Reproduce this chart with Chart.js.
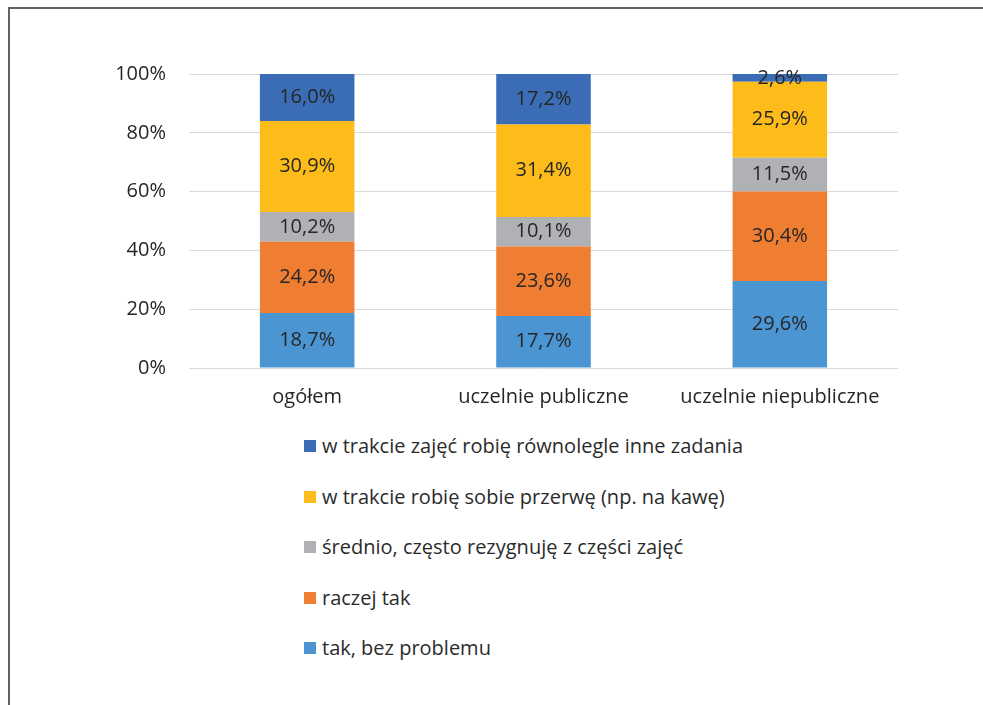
<!DOCTYPE html>
<html>
<head>
<meta charset="utf-8">
<script src="https://cdn.jsdelivr.net/npm/chart.js@4.4.1/dist/chart.umd.min.js"></script>
<style>
  html, body { margin:0; padding:0; background:#fff; overflow:hidden; }
  body { width:983px; height:705px; position:relative; font-family:"Open Sans", sans-serif; }
  #frame { position:absolute; left:8px; top:7px; width:1100px; height:800px;
           border-left:2px solid #626262; border-top:2px solid #626262; }
  #wrap { position:absolute; left:0; top:0; width:983px; height:420px; }
  #legend { position:absolute; left:304px; top:433px; }
  .item { height:50.5px; display:flex; align-items:flex-start; font-size:20px; line-height:26px; color:#2b2b2b; }
  .item span.box { width:12px; height:12px; margin-top:7px; margin-right:6px; display:inline-block; }
</style>
</head>
<body>
<div id="frame"></div>
<div id="wrap"><canvas id="chart"></canvas></div>
<div id="legend"></div>
<script>
// Data
const categories = ['ogółem', 'uczelnie publiczne', 'uczelnie niepubliczne'];
const seriesNames = [
    'tak, bez problemu',
    'raczej tak',
    'średnio, często rezygnuję z części zajęć',
    'w trakcie robię sobie przerwę (np. na kawę)',
    'w trakcie zajęć robię równolegle inne zadania'
];
const takBezProblemu = [18.7, 17.7, 29.6];
const raczejTak = [24.2, 23.6, 30.4];
const srednio = [10.2, 10.1, 11.5];
const przerwa = [30.9, 31.4, 25.9];
const rownolegle = [16.0, 17.2, 2.6];
const yTicks = [0, 20, 40, 60, 80, 100];

const colors = ['#4b95d2', '#ef7d32', '#b0b1b4', '#fdbc19', '#3a6db6'];
const values = [takBezProblemu, raczejTak, srednio, przerwa, rownolegle];

const fmt = v => v.toFixed(1).replace('.', ',') + '%';
const FONT = '"Open Sans"';

// Value labels in each segment
const segmentLabels = {
    id: 'segmentLabels',
    afterDatasetsDraw(chart) {
        const ctx = chart.ctx;
        ctx.save();
        ctx.font = '20px ' + FONT + ', sans-serif';
        ctx.fillStyle = '#262626';
        ctx.textAlign = 'center';
        ctx.textBaseline = 'middle';
        chart.data.datasets.forEach((ds, i) => {
            chart.getDatasetMeta(i).data.forEach((bar, j) => {
                const y = (bar.y + bar.base) / 2;
                ctx.fillText(fmt(ds.data[j]), bar.x, y);
            });
        });
        ctx.restore();
    }
};

const ctx = document.getElementById('chart').getContext('2d');
const chart = new Chart(ctx, {
    type: 'bar',
    data: {
        labels: categories,
        datasets: seriesNames.map((name, i) => ({
            label: name,
            data: values[i],
            backgroundColor: colors[i],
            borderWidth: 0,
            barPercentage: 0.4,
            categoryPercentage: 1
        }))
    },
    options: {
        responsive: true,
        maintainAspectRatio: false,
        animation: false,
        layout: { padding: { left: 0, right: 85, top: 74, bottom: 0 } },
        plugins: { legend: { display: false }, tooltip: { enabled: false } },
        scales: {
            x: {
                stacked: true,
                grid: { display: false },
                border: { display: false },
                ticks: { color: '#262626', font: { family: FONT, size: 20 }, padding: 9 },
                afterFit: s => { s.height = 52; }
            },
            y: {
                stacked: true,
                min: 0,
                max: 100,
                afterBuildTicks: s => { s.ticks = yTicks.map(v => ({ value: v })); },
                grid: { color: '#d9d9d9', drawTicks: false },
                border: { display: false },
                ticks: { color: '#262626', font: { family: FONT, size: 20 }, padding: 23, callback: v => v + '%' },
                afterFit: s => { s.width = 189; }
            }
        }
    },
    plugins: [segmentLabels]
});

// Legend, top series first
const legend = document.getElementById('legend');
seriesNames.slice().reverse().forEach((name, k) => {
    const i = seriesNames.length - 1 - k;
    const row = document.createElement('div');
    row.className = 'item';
    row.innerHTML = '<span class="box" style="background:' + colors[i] + '"></span><span>' + name + '</span>';
    legend.appendChild(row);
});
</script>
</body>
</html>
